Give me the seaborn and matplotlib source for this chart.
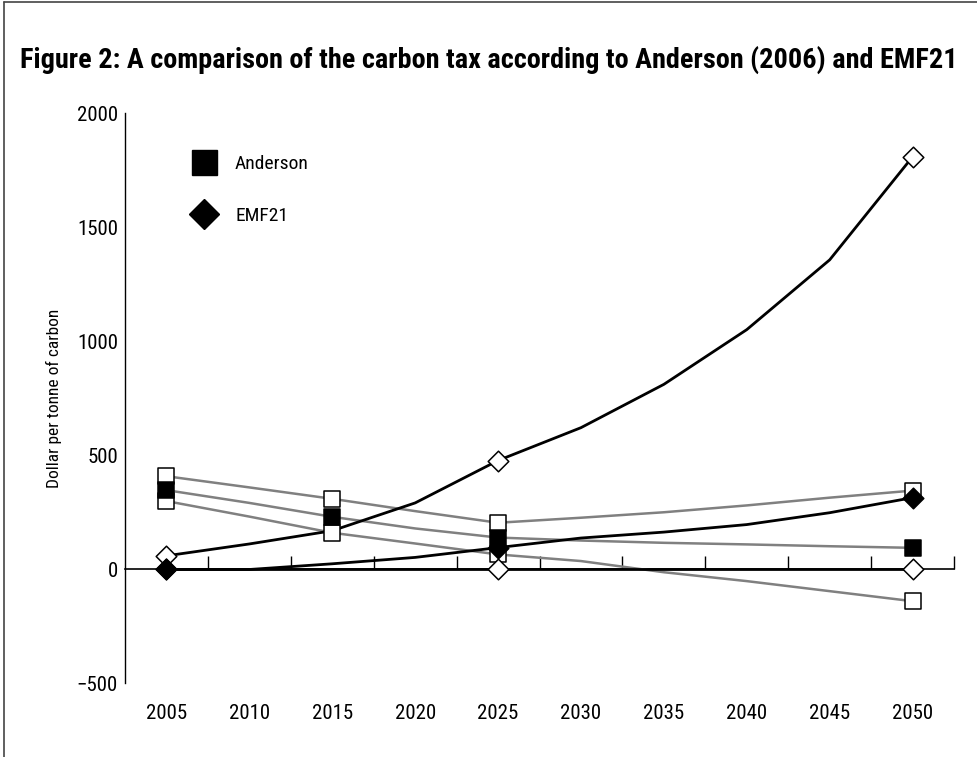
import matplotlib
matplotlib.use("Agg")
import matplotlib.pyplot as plt
from matplotlib.lines import Line2D
import seaborn as sns
import pandas as pd

# data (dollar per tonne of carbon)
years = [2005, 2010, 2015, 2020, 2025, 2030, 2035, 2040, 2045, 2050]
anderson_high = [409, 360, 310, 256, 205, 227, 251, 281, 315, 346]
anderson_mid = [348, 292, 231, 180, 140, 127, 117, 110, 102, 95]
anderson_low = [300, 232, 161, 114, 66, 37, -12, -51, -95, -139]
emf21_high = [60, 112, 170, 292, 478, 622, 812, 1052, 1358, 1810]
emf21_mid = [0, 0, 25, 53, 96, 138, 164, 197, 249, 315]
emf21_zero = [0, 0, 0, 0, 0, 0, 0, 0, 0, 0]

anderson_marker_years = [2005, 2015, 2025, 2050]
emf21_marker_years = [2005, 2025, 2050]
y_ticks = [-500, 0, 500, 1000, 1500, 2000]

title = "Figure 2: A comparison of the carbon tax according to Anderson (2006) and EMF21"
y_label = "Dollar per tonne of carbon"

df = pd.DataFrame({
    "year": years,
    "anderson_high": anderson_high,
    "anderson_mid": anderson_mid,
    "anderson_low": anderson_low,
    "emf21_high": emf21_high,
    "emf21_mid": emf21_mid,
    "emf21_zero": emf21_zero,
})

sns.set_style("white")
# narrow face if one is installed, otherwise condensed Roboto / DejaVu
plt.rcParams["font.family"] = ["Liberation Sans Narrow", "Roboto Condensed", "DejaVu Sans"]
plt.rcParams["font.stretch"] = "condensed"
plt.rcParams["text.color"] = "black"
plt.rcParams["xtick.color"] = "black"
plt.rcParams["ytick.color"] = "black"
plt.rcParams["axes.labelcolor"] = "black"

fig = plt.figure(figsize=(9.78, 7.57), dpi=100)
ax = fig.add_axes([0.1278, 0.0971, 0.8477, 0.7530])

GRAY = "#808080"

# Anderson: grey lines, square markers
for col in ["anderson_high", "anderson_mid", "anderson_low"]:
    sns.lineplot(data=df, x="year", y=col, color=GRAY, lw=1.8, ax=ax, zorder=2)
sub = df[df["year"].isin(anderson_marker_years)]
for col, face in [("anderson_high", "white"), ("anderson_low", "white"), ("anderson_mid", "black")]:
    sns.scatterplot(data=sub, x="year", y=col, marker="s", s=130, color=face,
                    edgecolor="black", linewidth=1.1, ax=ax, zorder=4)

# EMF21: black lines, diamond markers
for col in ["emf21_high", "emf21_mid", "emf21_zero"]:
    sns.lineplot(data=df, x="year", y=col, color="black", lw=2.0, ax=ax, zorder=3)
sub = df[df["year"].isin(emf21_marker_years)]
for col, face in [("emf21_high", "white"), ("emf21_zero", "white"), ("emf21_mid", "black")]:
    sns.scatterplot(data=sub, x="year", y=col, marker="D", s=110, color=face,
                    edgecolor="black", linewidth=1.1, ax=ax, zorder=5)

ax.set_xlim(years[0] - 2.5, years[-1] + 2.5)
ax.set_ylim(y_ticks[0], y_ticks[-1])
ax.set_xticks(years)
ax.set_xticklabels([str(y) for y in years])
ax.set_yticks(y_ticks)
ax.tick_params(axis="x", length=0, pad=15, labelsize=15)
ax.tick_params(axis="y", direction="in", length=14.4, width=1, pad=5, labelsize=15)
ax.set_xlabel("")
ax.set_ylabel(y_label, fontsize=12.5)
ax.yaxis.set_label_coords(-0.076, 0.5)

for side in ["top", "right", "bottom"]:
    ax.spines[side].set_visible(False)
ax.spines["left"].set_color("black")
ax.spines["left"].set_linewidth(1)

# category axis drawn at y = 0 with ticks between categories
zero_loc = (0 - y_ticks[0]) / (y_ticks[-1] - y_ticks[0])
sec = ax.secondary_xaxis(zero_loc)
sec.set_xticks([y + 2.5 for y in years])
sec.tick_params(direction="in", length=9.4, width=1, labelbottom=False)
sec.spines["bottom"].set_linewidth(1.2)
sec.spines["bottom"].set_color("black")

handles = [
    Line2D([], [], ls="none", marker="s", ms=18, color="black", label="Anderson"),
    Line2D([], [], ls="none", marker="D", ms=15, color="black", label="EMF21"),
]
ax.legend(handles=handles, loc="upper left", bbox_to_anchor=(0.06, 0.958), frameon=False,
          fontsize=14, handlelength=1.2, handletextpad=1.0, labelspacing=1.75)

t = fig.text(0.5, 0.921, title, ha="center", va="center", fontsize=19, fontweight="bold")
# shrink the title until it spans the same width as the reference (~938 px)
fig.canvas.draw()
w = t.get_window_extent().width
t.set_fontsize(19 * 938 / w)

# partial frame around the figure
fig.add_artist(Line2D([0.004, 1.0], [0.998, 0.998], color="#444444", lw=1.2))
fig.add_artist(Line2D([0.004, 0.004], [0.0, 0.998], color="#444444", lw=1.2))

fig.savefig("out.png", dpi=100)
